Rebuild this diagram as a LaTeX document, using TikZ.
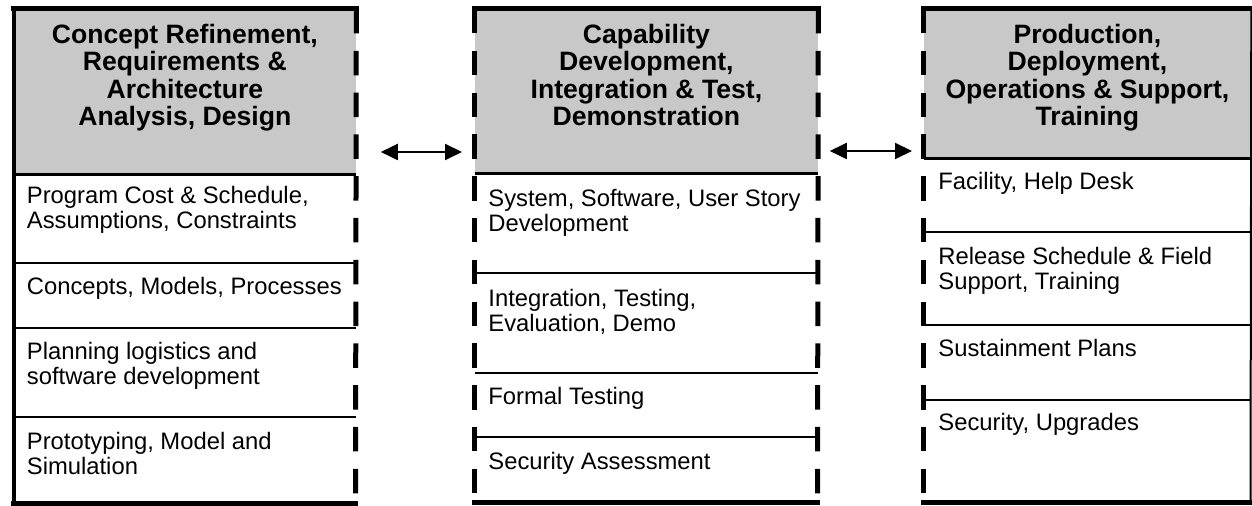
\documentclass[tikz,border=0pt]{standalone}
\usepackage{fontspec}
\setmainfont{Liberation Sans}
\usetikzlibrary{arrows.meta}
\definecolor{headgray}{RGB}{200,200,200}
\begin{document}
\begin{tikzpicture}[x=0.5pt, y=-0.5pt,
  headbox/.style={fill=headgray, draw=none, inner sep=0pt, anchor=north west},
  title/.style={anchor=north, inner sep=0pt, align=center,
    font=\bfseries\fontsize{13.3}{13.75}\selectfont},
  celltext/.style={anchor=north west, inner sep=0pt, align=left,
    font=\fontsize{11.9}{12.5}\selectfont},
  frame/.style={line width=2.5pt, line cap=rect},
  sideline/.style={line width=2pt, line cap=rect},
  dashedge/.style={line width=2.5pt, dash pattern=on 12.25pt off 8.65pt},
  headrule/.style={line width=1.5pt},
  divider/.style={line width=1.2pt},
  thinedge/.style={line width=1pt},
  biarrow/.style={line width=1pt,
    {Triangle[length=8.5pt,width=8pt]}-{Triangle[length=8.5pt,width=8pt]}},
]
\useasboundingbox (0,0) rectangle (1252,506);

% shaded header panels
\node[headbox, minimum width=171pt,   minimum height=82.5pt] (h1) at (13.5,9) {};
\node[headbox, minimum width=171.5pt, minimum height=82pt]   (h2) at (474.5,9) {};
\node[headbox, minimum width=163.5pt, minimum height=74.5pt] (h3) at (923.5,9) {};

% phase titles
\node[title] (t1) at (h1.north |- 0,23.5)
  {Concept Refinement,\\Requirements \&\\Architecture\\Analysis, Design};
\node[title] (t2) at (h2.north |- 0,23.5)
  {Capability\\Development,\\Integration \& Test,\\Demonstration};
\node[title] (t3) at (h3.north |- 0,23.5)
  {Production,\\Deployment,\\Operations \& Support,\\Training};

% activities, column 1
\node[celltext] (c11) at (26.5,186) {Program Cost \& Schedule,\\Assumptions, Constraints};
\node[celltext] (c12) at (26.5,277) {Concepts, Models, Processes};
\node[celltext] (c13) at (26.5,342) {Planning logistics and\\software development};
\node[celltext] (c14) at (26.5,432) {Prototyping, Model and\\Simulation};

% activities, column 2
\node[celltext] (c21) at (488,189) {System, Software, User Story\\Development};
\node[celltext] (c22) at (488,289) {Integration, Testing,\\Evaluation, Demo};
\node[celltext] (c23) at (488,387) {Formal Testing};
\node[celltext] (c24) at (488,452) {Security Assessment};

% activities, column 3
\node[celltext] (c31) at (938,172) {Facility, Help Desk};
\node[celltext] (c32) at (938,247) {Release Schedule \& Field\\Support, Training};
\node[celltext] (c33) at (938,339) {Sustainment Plans};
\node[celltext] (c34) at (938,413) {Security, Upgrades};

% column 1 frame
\draw[sideline] (h1.north west) -- (13.5,504);
\draw[dashedge] (h1.north east) -- (355.5,504);
\draw[frame] (h1.north west) -- (h1.north east);
\draw[frame] (13.5,504) -- (355.5,504);
\draw[headrule] (h1.south west) -- (h1.south east);
\foreach \y in {263,328,417} \draw[divider] (13.5,\y) -- (355.5,\y);

% column 2 frame
\draw[dashedge] (h2.north west) -- (474.5,503);
\draw[dashedge] (h2.north east) -- (817.5,503);
\draw[frame] (h2.north west) -- (h2.north east);
\draw[frame] (474.5,503) -- (817.5,503);
\draw[headrule] (h2.south west) -- (h2.south east);
\foreach \y in {273,373,437} \draw[divider] (474.5,\y) -- (817.5,\y);

% column 3 frame
\draw[dashedge] (h3.north west) -- (923.5,503);
\draw[thinedge] (h3.north east) -- (1250.5,503);
\draw[frame] (h3.north west) -- (h3.north east);
\draw[frame] (923.5,503) -- (1250.5,503);
\draw[headrule] (h3.south west) -- (h3.south east);
\foreach \y in {232,325,400} \draw[divider] (923.5,\y) -- (1250.5,\y);

% two-way links between phases
\draw[biarrow, shorten <=12.25pt, shorten >=6.25pt] (h1.east |- 0,152) -- (h2.west |- 0,152);
\draw[biarrow, shorten <=5.75pt, shorten >=5.75pt] (h2.east |- 0,151) -- (h3.west |- 0,151);
\end{tikzpicture}
\end{document}
